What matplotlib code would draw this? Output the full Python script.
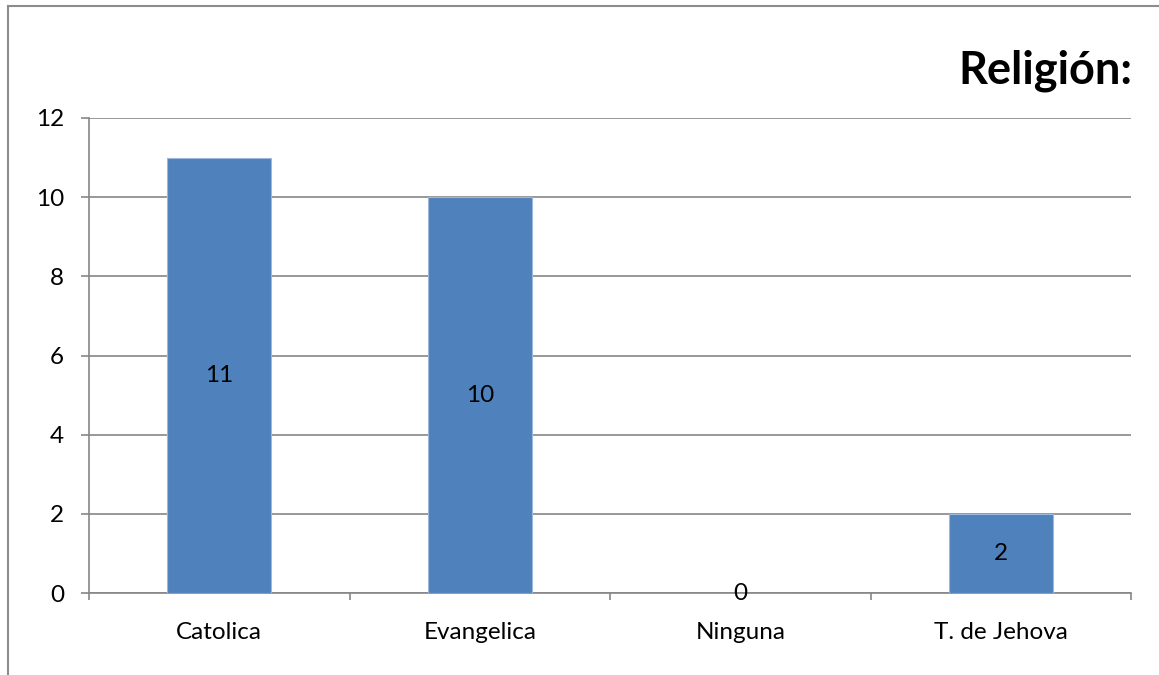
import matplotlib
matplotlib.use("Agg")
from matplotlib import pyplot as plt
from matplotlib.lines import Line2D

# Data
categories = ["Catolica", "Evangelica", "Ninguna", "T. de Jehova"]
values = [11, 10, 0, 2]
y_ticks = [0, 2, 4, 6, 8, 10, 12]

BAR_COLOR = "#4F81BD"
GRID_COLOR = "#868686"
W, H = 1159, 675
FS = 17.5

plt.rcParams["font.family"] = ["Lato", "DejaVu Sans"]

fig = plt.figure(figsize=(W / 100, H / 100), dpi=100)
ax = fig.add_axes([89 / W, 1 - 593 / H, (1131 - 89) / W, (593 - 118) / H])

x = list(range(len(categories)))
ax.bar(x, values, width=0.4, color=BAR_COLOR, edgecolor="#9db8da",
       linewidth=0.8, zorder=3)
ax.set_xlim(-0.5, len(categories) - 0.5)
ax.set_ylim(0, 12)

# value labels centred in the bars
for xi, v in zip(x, values):
    ax.text(xi, v / 2, str(v), ha="center", va="center", fontsize=FS,
            color="black", zorder=4, clip_on=False)

ax.set_yticks(y_ticks)
ax.set_yticklabels([str(t) for t in y_ticks], fontsize=FS)
ax.yaxis.grid(True, color=GRID_COLOR, linewidth=1.2, zorder=0)
ax.tick_params(axis="y", length=6, width=1.2, color=GRID_COLOR, pad=12)

ax.set_xticks(x)
ax.set_xticklabels(categories, fontsize=FS)
ax.tick_params(axis="x", length=0, pad=21)
# category boundary ticks
ax.set_xticks([i - 0.5 for i in range(len(categories) + 1)], minor=True)
ax.tick_params(axis="x", which="minor", length=5, width=1.2, color=GRID_COLOR)

for side in ["top", "right"]:
    ax.spines[side].set_visible(False)
for side in ["left", "bottom"]:
    ax.spines[side].set_color(GRID_COLOR)
    ax.spines[side].set_linewidth(1.2)

# title
fig.text(1132 / W, 1 - 83 / H, "Religión:", ha="right", va="baseline",
         fontsize=32.5, fontweight="bold")

# chart frame (left and top edges)
fig.add_artist(Line2D([8 / W, 8 / W], [0, 1 - 6 / H], color="#8c8c8c", linewidth=1.5))
fig.add_artist(Line2D([8 / W, 1], [1 - 6 / H, 1 - 6 / H], color="#8c8c8c", linewidth=1.5))

plt.savefig("out.png", dpi=100)
plt.close()
